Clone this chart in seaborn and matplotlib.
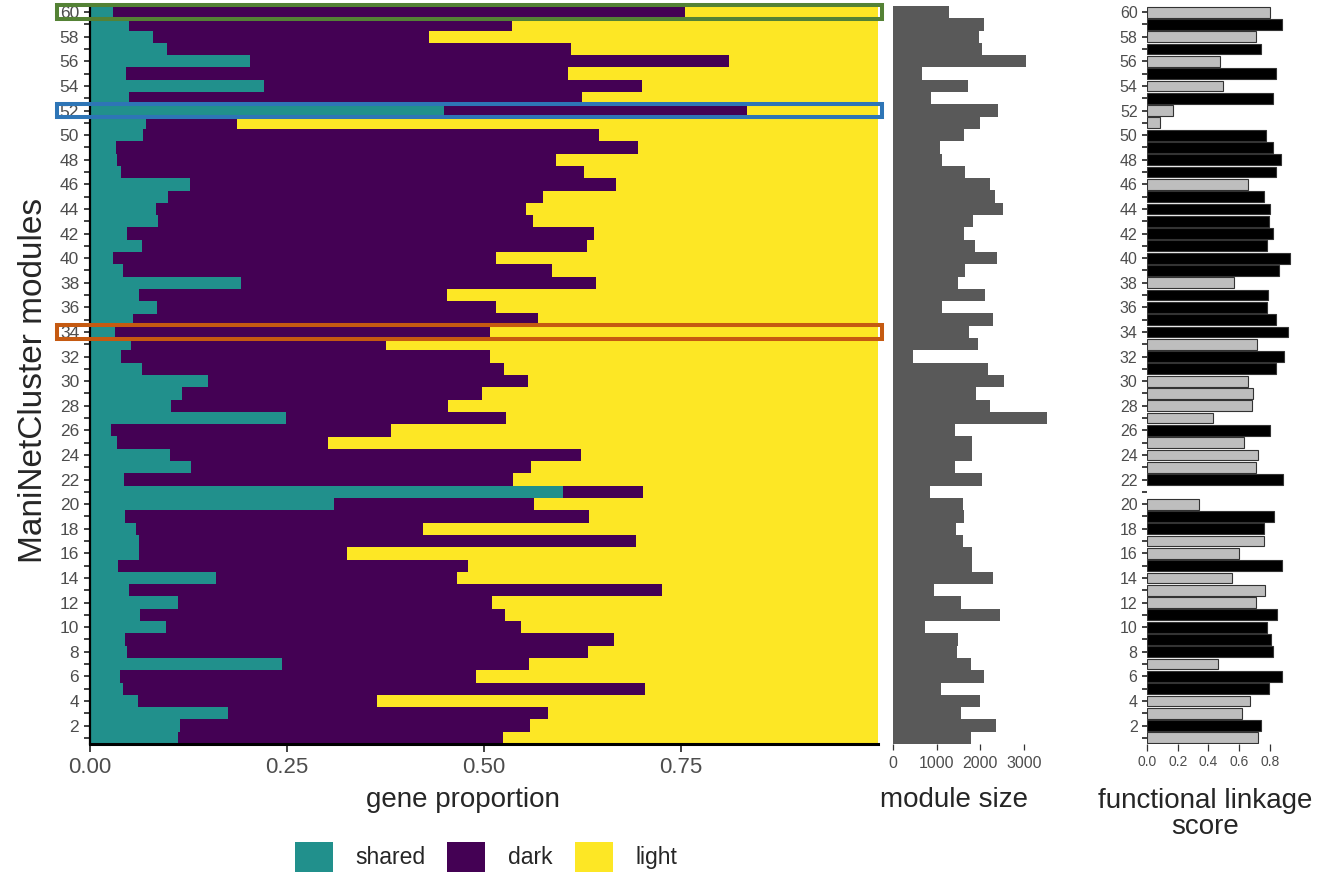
import numpy as np
import pandas as pd
import matplotlib
matplotlib.use("Agg")
import matplotlib.pyplot as plt
import seaborn as sns
from matplotlib.patches import Patch, Rectangle

# ---------------- data (module 1 .. 60) ----------------
modules = list(range(1, 61))

shared = [0.112, 0.114, 0.175, 0.061, 0.042, 0.038, 0.244, 0.047, 0.044, 0.096,
          0.063, 0.112, 0.049, 0.160, 0.036, 0.062, 0.062, 0.058, 0.044, 0.310,
          0.600, 0.043, 0.128, 0.102, 0.034, 0.027, 0.249, 0.103, 0.117, 0.150,
          0.066, 0.039, 0.052, 0.032, 0.055, 0.085, 0.062, 0.192, 0.042, 0.029,
          0.066, 0.047, 0.086, 0.084, 0.099, 0.127, 0.039, 0.034, 0.033, 0.067,
          0.071, 0.449, 0.049, 0.221, 0.046, 0.203, 0.098, 0.080, 0.049, 0.029]

dark = [0.412, 0.444, 0.406, 0.303, 0.662, 0.452, 0.313, 0.585, 0.621, 0.451,
        0.464, 0.398, 0.677, 0.306, 0.444, 0.264, 0.631, 0.365, 0.589, 0.253,
        0.102, 0.494, 0.432, 0.521, 0.268, 0.355, 0.279, 0.351, 0.380, 0.406,
        0.459, 0.469, 0.324, 0.476, 0.514, 0.430, 0.391, 0.450, 0.544, 0.486,
        0.565, 0.593, 0.476, 0.469, 0.476, 0.540, 0.588, 0.557, 0.662, 0.579,
        0.116, 0.385, 0.575, 0.479, 0.561, 0.608, 0.512, 0.350, 0.486, 0.726]

light = [0.476, 0.442, 0.419, 0.636, 0.296, 0.510, 0.443, 0.368, 0.335, 0.453,
         0.473, 0.490, 0.274, 0.534, 0.520, 0.674, 0.307, 0.577, 0.367, 0.437,
         0.298, 0.463, 0.440, 0.377, 0.698, 0.618, 0.472, 0.546, 0.503, 0.444,
         0.475, 0.492, 0.624, 0.492, 0.431, 0.485, 0.547, 0.358, 0.414, 0.485,
         0.369, 0.360, 0.438, 0.447, 0.425, 0.333, 0.373, 0.409, 0.305, 0.354,
         0.813, 0.166, 0.376, 0.300, 0.393, 0.189, 0.390, 0.570, 0.465, 0.245]

module_size = [1782, 2356, 1553, 1988, 1093, 2080, 1782, 1461, 1484, 727,
               2447, 1553, 933, 2287, 1805, 1805, 1598, 1438, 1621, 1598,
               841, 2034, 1415, 1805, 1805, 1415, 3525, 2218, 1897, 2539,
               2172, 452, 1943, 1736, 2287, 1116, 2103, 1484, 1644, 2379,
               1874, 1621, 1828, 2516, 2333, 2218, 1644, 1116, 1070, 1621,
               1988, 2401, 865, 1713, 658, 3044, 2034, 1965, 2080, 1277]

fls_score = [0.725, 0.742, 0.620, 0.672, 0.794, 0.881, 0.464, 0.820, 0.809, 0.779,
             0.846, 0.709, 0.770, 0.555, 0.879, 0.601, 0.759, 0.761, 0.824, 0.341,
             np.nan, 0.885, 0.709, 0.725, 0.629, 0.800, 0.427, 0.681, 0.690, 0.659,
             0.842, 0.894, 0.714, 0.918, 0.842, 0.781, 0.787, 0.568, 0.859, 0.931,
             0.783, 0.820, 0.794, 0.800, 0.761, 0.655, 0.839, 0.872, 0.822, 0.774,
             0.087, 0.169, 0.822, 0.495, 0.839, 0.475, 0.742, 0.709, 0.876, 0.803]

S, N = "significant", "not significant"
fls_group = [N, S, N, N, S, S, N, S, S, S,
             S, N, N, N, S, N, N, S, S, N,
             N, S, N, N, N, S, N, N, N, N,
             S, S, N, S, S, S, S, N, S, S,
             S, S, S, S, S, N, S, S, S, S,
             N, N, S, N, S, N, S, N, S, N]

legend_labels = ["shared", "dark", "light"]
prop_colors = ["#21908C", "#440154", "#FDE725"]
size_color = "#595959"
fls_palette = {S: "#000000", N: "#BEBEBE"}

highlight_modules = [60, 52, 34]
highlight_colors = ["#548235", "#2E75B6", "#C55A11"]

x1_ticks = [0.0, 0.25, 0.5, 0.75]
x1_labels = ["0.00", "0.25", "0.50", "0.75"]
x2_ticks = [0, 1000, 2000, 3000]
x3_ticks = [0.0, 0.2, 0.4, 0.6, 0.8]
x3_labels = ["0.0", "0.2", "0.4", "0.6", "0.8"]

# ---------------- figure ----------------
sns.set_style("white")
plt.rcParams["font.family"] = ["Liberation Sans", "DejaVu Sans"]

df = pd.DataFrame({"module": modules, "shared": shared, "dark": dark,
                   "light": light, "size": module_size,
                   "fls": fls_score, "group": fls_group})
df["cum_dark"] = df["shared"] + df["dark"]
df["cum_light"] = df["cum_dark"] + df["light"]

W, H = 1341, 876
fig = plt.figure(figsize=(W / 100, H / 100), dpi=100)

ax1 = fig.add_axes([90 / W, 132 / H, 788 / W, 738 / H])
ax2 = fig.add_axes([893 / W, 132 / H, 170 / W, 738 / H])
ax3 = fig.add_axes([1147 / W, 132 / H, 153.7 / W, 738 / H])

tick_gray = "#4D4D4D"
tick_mark = "#333333"

# panel 1: stacked proportions
for col, colr in zip(["cum_light", "cum_dark", "shared"], prop_colors[::-1]):
    sns.barplot(data=df, x=col, y="module", orient="y", native_scale=True,
                width=1.0, color=colr, saturation=1, linewidth=0,
                errorbar=None, ax=ax1)
ax1.set_xlim(0, 1.0)
ax1.set_ylim(0.5, 60.5)
ax1.set_xticks(x1_ticks)
ax1.set_xticklabels(x1_labels)
ax1.set_yticks(modules)
ax1.set_yticklabels([str(m) if m % 2 == 0 else "" for m in modules])
ax1.set_xlabel("")
ax1.set_ylabel("")
for s in ["top", "right"]:
    ax1.spines[s].set_visible(False)
ax1.spines["left"].set_linewidth(1.6)
ax1.spines["left"].set_color("black")
ax1.spines["bottom"].set_linewidth(2.2)
ax1.spines["bottom"].set_color("black")
ax1.tick_params(axis="y", length=4.3, width=1.3, color=tick_mark,
                labelcolor=tick_gray, labelsize=12.5, pad=3.5, left=True)
ax1.tick_params(axis="x", length=5.5, width=1.3, color=tick_mark,
                labelcolor=tick_gray, labelsize=16, pad=4, bottom=True)

for m, c in zip(highlight_modules, highlight_colors):
    ax1.add_patch(Rectangle((-0.042, m - 0.55), 1.047, 1.1, fill=False,
                            edgecolor=c, linewidth=2.9, clip_on=False,
                            zorder=6))

# panel 2: module size
sns.barplot(data=df, x="size", y="module", orient="y", native_scale=True,
            width=1.0, color=size_color, saturation=1, linewidth=0,
            errorbar=None, ax=ax2)
ax2.set_xlim(0, 3900)
ax2.set_ylim(0.5, 60.5)
ax2.set_xticks(x2_ticks)
ax2.set_yticks([])
ax2.set_xlabel("")
ax2.set_ylabel("")
for s in ax2.spines.values():
    s.set_visible(False)
ax2.tick_params(axis="x", length=4.5, width=0.9, color=tick_mark,
                labelcolor=tick_gray, labelsize=11.5, pad=4, bottom=True)

# panel 3: functional linkage score
df3 = df[df["fls"].notna()]
sns.barplot(data=df3, x="fls", y="module", hue="group", palette=fls_palette,
            orient="y", native_scale=True, width=0.88, saturation=1,
            dodge=False, edgecolor="#333333", linewidth=0.8,
            errorbar=None, legend=False, ax=ax3)
ax3.set_xlim(0, 1.0)
ax3.set_ylim(0.5, 60.5)
ax3.set_xticks(x3_ticks)
ax3.set_xticklabels(x3_labels,
                    fontfamily=["Liberation Sans Narrow", "Liberation Sans"])
ax3.set_yticks(modules)
ax3.set_yticklabels([str(m) if m % 2 == 0 else "" for m in modules])
ax3.set_xlabel("")
ax3.set_ylabel("")
for s in ax3.spines.values():
    s.set_visible(False)
ax3.tick_params(axis="y", length=3.8, width=1.3, color=tick_mark,
                labelcolor=tick_gray, labelsize=11.5, pad=3, left=True)
ax3.tick_params(axis="x", length=5, width=0.9, color=tick_mark,
                labelcolor=tick_gray, labelsize=10, pad=3, bottom=True)

# titles
fig.text(463 / W, 1 - 800 / H, "gene proportion", ha="center", va="center",
         fontsize=20)
fig.text(954 / W, 1 - 800 / H, "module size", ha="center", va="center",
         fontsize=20)
fig.text(1205 / W, 1 - 814 / H, "functional linkage\nscore", ha="center",
         va="center", fontsize=20, linespacing=0.95)
fig.text(34 / W, 1 - 380 / H, "ManiNetCluster modules", ha="center",
         va="center", rotation=90, fontsize=24)

# legend
handles = [Patch(facecolor=c, edgecolor="none") for c in prop_colors]
fig.legend(handles, legend_labels, loc="center", ncol=3, frameon=False,
           bbox_to_anchor=(486 / W, 1 - 857 / H), fontsize=16.5,
           handlelength=1.66, handleheight=1.66, handletextpad=1.0,
           columnspacing=0.95, borderpad=0)

fig.savefig("out.png", dpi=100)
